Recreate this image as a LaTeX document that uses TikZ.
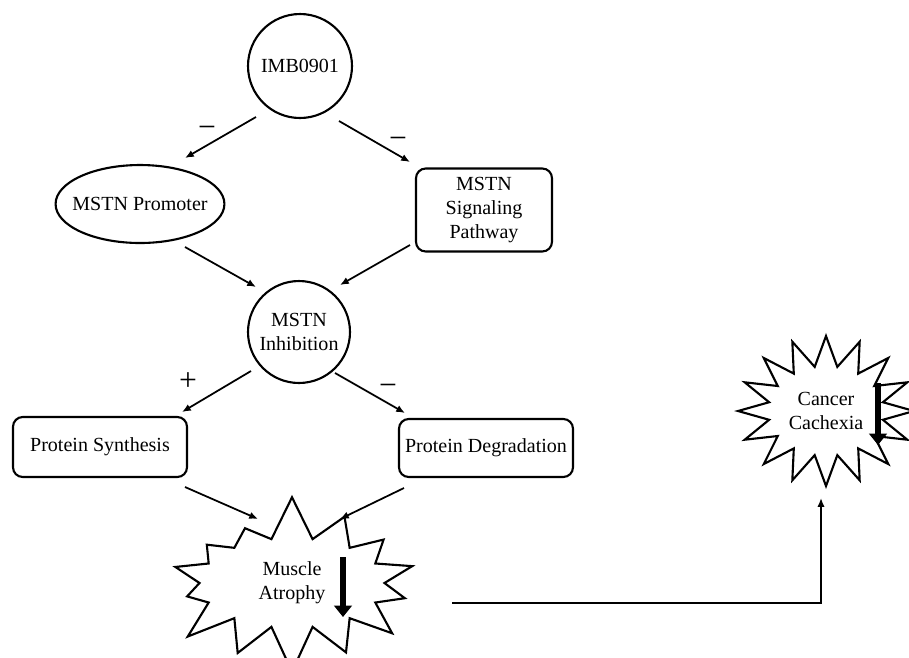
\documentclass[tikz,border=0pt]{standalone}
\usepackage{fontspec}
\setmainfont{Liberation Serif}
\usetikzlibrary{shapes.geometric,shapes.symbols,arrows.meta}

\begin{document}
\begin{tikzpicture}[x=0.02cm, y=-0.02cm,
	every node/.style={font=\fontsize{11.4}{13.6}\selectfont, align=center},
	rnd/.style={draw, circle, line width=1.2pt, inner sep=0pt},
	box/.style={draw, rectangle, rounded corners=5.5pt, line width=1.2pt, inner sep=0pt},
	burst/.style={draw, starburst, line width=1.2pt, inner sep=0pt},
	arr/.style={-{Latex[length=5pt,width=4.2pt]}, line width=1pt},
	sign/.style={font=\fontsize{18}{18}\selectfont},
	down/.style={line width=3.8pt, -{Triangle[length=6.5pt,width=10pt]}}]
	\useasboundingbox (0,0) rectangle (909,657);

	\node[rnd, minimum size=2.08cm] (imb) at (300,66) {IMB0901};
	\node[draw, ellipse, line width=1.2pt, inner xsep=-4.5pt, inner ysep=0pt, minimum width=3.36cm, minimum height=1.56cm] (promoter) at (140,204) {MSTN Promoter};
	\node[box, minimum width=2.72cm, minimum height=1.66cm] (signal) at (484,210) {MSTN\\Signaling\\Pathway};
	\node[rnd, minimum size=2.04cm] (inhib) at (299,332) {MSTN\\Inhibition};
	\node[box, minimum width=3.48cm, minimum height=1.2cm] (synth) at (100,447) {Protein Synthesis};
	\node[box, minimum width=3.48cm, minimum height=1.16cm] (degr) at (486,448) {Protein Degradation};
	\node[burst, starburst points=14, random starburst=7, starburst point height=0.9cm, minimum width=5.5cm, minimum height=3.6cm] (atrophy) at (292,583) {Muscle\\Atrophy};
	\node[burst, starburst points=16, random starburst=0, starburst point height=0.6cm, minimum width=3.52cm, minimum height=3cm] (cancer) at (826,411) {Cancer\\Cachexia};

	\node[sign] (s1) at (207,132) {−};
	\node[sign] (s2) at (398,143) {−};
	\node[sign] (s3) at (188,382) {+};
	\node[sign] (s4) at (388,390) {−};

	\draw[arr] ([shift={(-44,51)}]imb.center) -- ([shift={(45,-46)}]promoter.center);
	\draw[arr] ([shift={(39,55)}]imb.center) -- ([shift={(-74,-48)}]signal.center);
	\draw[arr] ([shift={(45,43)}]promoter.center) -- ([shift={(-43,-45)}]inhib.center);
	\draw[arr] ([shift={(-74,35)}]signal.center) -- ([shift={(41,-47)}]inhib.center);
	\draw[arr] ([shift={(-48,39)}]inhib.center) -- ([shift={(82,-35)}]synth.center);
	\draw[arr] ([shift={(36,41)}]inhib.center) -- ([shift={(-81,-35)}]degr.center);
	\draw[arr] ([shift={(85,40)}]synth.center) -- ([shift={(-34,-64)}]atrophy.center);
	\draw[arr] ([shift={(-82,40)}]degr.center) -- ([shift={(48,-64)}]atrophy.center);
	\draw[arr] ([shift={(160,20)}]atrophy.center) -| ([shift={(-5,87)}]cancer.center);

	\draw[down] ([shift={(51,-26)}]atrophy.center) -- ([shift={(51,34)}]atrophy.center);
	\draw[down] ([shift={(52,-28)}]cancer.center) -- ([shift={(52,34)}]cancer.center);
\end{tikzpicture}
\end{document}
